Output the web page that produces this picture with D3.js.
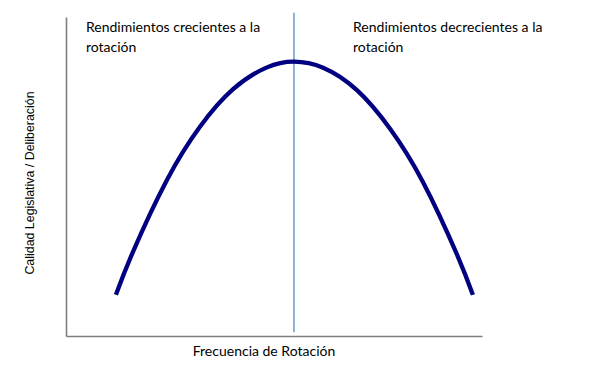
<!DOCTYPE html>
<html>
<head>
<meta charset="utf-8">
<script src="https://cdn.jsdelivr.net/npm/d3@7"></script>
<style>
  body { margin: 0; background: #fff; }
  svg { display: block; }
  .note { font-family: Lato, "Open Sans", sans-serif; font-size: 14px; fill: #000; }
  .ylab { font-family: "Liberation Sans", Arial, sans-serif; font-size: 12.4px; fill: #000; }
</style>
</head>
<body>
<div id="chart"></div>
<script>
// frequency of rotation (0-100) and legislative quality (0-100)
var frecuencia = [12, 16.1, 24.3, 32.2, 40.1, 48.3, 54.8, 61.8, 70, 77.9, 85.8, 94, 97.8];
var calidad    = [12.9, 26.4, 49, 65.6, 77.3, 84.2, 86, 84.1, 77, 65, 48.3, 25.5, 12.9];
var picoX = 54.8;

var notas = [
  { x: 4.8, lineas: ["Rendimientos crecientes a la", "rotación"] },
  { x: 69, lineas: ["Rendimientos decrecientes a la", "rotación"] }
];
var tituloX = "Frecuencia de Rotación";
var tituloY = "Calidad Legislativa / Deliberación";

var svgWidth = 592, svgHeight = 371;
var margin = { top: 17, right: 110, bottom: 35, left: 66 };
var width = svgWidth - margin.left - margin.right;
var height = svgHeight - margin.top - margin.bottom;

var svg = d3.select("#chart").append("svg")
  .attr("width", svgWidth)
  .attr("height", svgHeight);

var g = svg.append("g")
  .attr("transform", `translate(${margin.left}, ${margin.top})`);

var x = d3.scaleLinear().domain([0, 100]).range([0, width]);
var y = d3.scaleLinear().domain([0, 100]).range([height, 0]);

var puntos = frecuencia.map(function(f, i) { return [f, calidad[i]]; });

// axes: plain lines, no ticks
var axisColor = "#7f7f7f";
var ejeX = d3.axisBottom(x).tickValues([]).tickSizeOuter(0);
var ejeY = d3.axisLeft(y).tickValues([]).tickSizeOuter(0);

g.append("g")
  .attr("transform", `translate(0, ${height})`)
  .call(ejeX)
  .select(".domain").attr("stroke", axisColor).attr("stroke-width", 1.6);

g.append("g")
  .call(ejeY)
  .select(".domain").attr("stroke", axisColor).attr("stroke-width", 1.6);

// vertical divider at the peak
g.append("line")
  .attr("x1", x(picoX)).attr("x2", x(picoX))
  .attr("y1", y(101.3)).attr("y2", y(1.2))
  .attr("stroke", "#4a7ebb")
  .attr("stroke-width", 1.2);

var linea = d3.line()
  .x(function(d) { return x(d[0]); })
  .y(function(d) { return y(d[1]); })
  .curve(d3.curveNatural);

g.append("path")
  .datum(puntos)
  .attr("d", linea)
  .attr("fill", "none")
  .attr("stroke", "#000080")
  .attr("stroke-width", 4.3)
  .attr("stroke-linecap", "butt");

// annotations
notas.forEach(function(n) {
  var t = g.append("text")
    .attr("class", "note")
    .attr("x", x(n.x))
    .attr("y", 32 - margin.top);
  n.lineas.forEach(function(l, i) {
    t.append("tspan")
      .attr("x", x(n.x))
      .attr("dy", i === 0 ? 0 : 20)
      .text(l);
  });
});

g.append("text")
  .attr("class", "note")
  .attr("x", (195 + 333) / 2 - margin.left)
  .attr("y", height + 20)
  .attr("text-anchor", "middle")
  .text(tituloX);

g.append("text")
  .attr("class", "ylab")
  .attr("transform", "rotate(-90)")
  .attr("x", -(183 - margin.top))
  .attr("y", 34 - margin.left)
  .attr("text-anchor", "middle")
  .text(tituloY);
</script>
</body>
</html>
